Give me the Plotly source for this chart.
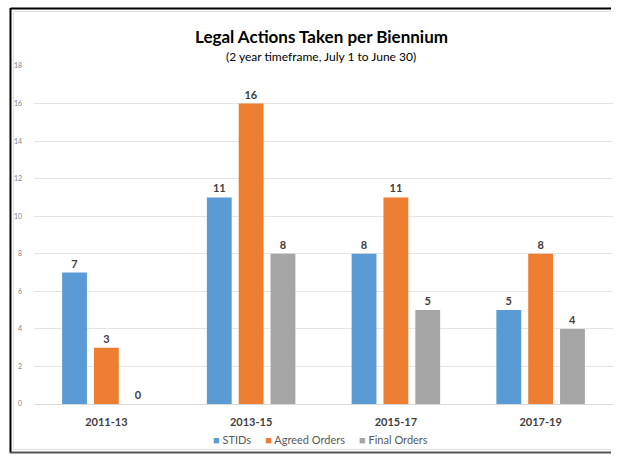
import plotly.graph_objects as go

categories = ["2011-13", "2013-15", "2015-17", "2017-19"]
series_names = ["STIDs", "Agreed Orders", "Final Orders"]
stids = [7, 11, 8, 5]
agreed_orders = [3, 16, 11, 8]
final_orders = [0, 8, 5, 4]
y_ticks = [0, 2, 4, 6, 8, 10, 12, 14, 16, 18]
colors = ["#5B9BD5", "#ED7D31", "#A5A5A5"]

FONT = "Lato"
W, H = 623, 456
L, R, T, B = 34, 10, 66, 52
pw, ph = W - L - R, H - T - B

def px(x):
    return (x - L) / pw

def py(y):
    return (H - B - y) / ph

def seg(x0, y0, x1, y1, color, width):
    return dict(type="path", xref="paper", yref="paper",
                path=f"M {px(x0):.5f},{py(y0):.5f} L {px(x1):.5f},{py(y1):.5f}",
                line=dict(color=color, width=width))

fig = go.Figure()
for name, vals, col in zip(series_names, [stids, agreed_orders, final_orders], colors):
    fig.add_trace(go.Bar(
        x=categories, y=vals, name=name, marker=dict(color=col, line=dict(width=0)),
        text=[str(v) for v in vals], textposition="outside", cliponaxis=False,
        textfont=dict(family=FONT, size=11, color="#404040", weight="bold"),
    ))

RX = 611
shapes = [
    seg(10.5, 8.5, RX, 8.5, "black", 2),
    seg(10.5, 8, 10.5, 453, "black", 2),
    seg(10, 452.5, RX, 452.5, "#555555", 2),
    seg(13.5, 11.5, RX, 11.5, "#E0E0E0", 1),
    seg(13.5, 11.5, 13.5, 450, "#E0E0E0", 1),
    seg(13.5, 449.5, RX, 449.5, "#E0E0E0", 1),
]

SP = "\u00a0"
legend_text = (SP * 5).join(
    f'<span style="color:{c}">■</span>{SP}{n}' for n, c in zip(series_names, colors))

fig.update_layout(
    width=W, height=H,
    margin=dict(l=L, r=R, t=T, b=B),
    paper_bgcolor="white", plot_bgcolor="white",
    barmode="group", bargap=0.34, bargroupgap=0.22,
    showlegend=False,
    shapes=shapes,
    annotations=[
        dict(text="<b>Legal Actions Taken per Biennium</b>", xref="paper", yref="paper",
             x=px(321), y=py(36), xanchor="center", yanchor="middle", showarrow=False,
             font=dict(family=FONT, size=17, color="black")),
        dict(text="(2 year timeframe, July 1 to June 30)", xref="paper", yref="paper",
             x=px(321), y=py(56), xanchor="center", yanchor="middle", showarrow=False,
             font=dict(family=FONT, size=12, color="black")),
        dict(text=legend_text, xref="paper", yref="paper",
             x=px(320), y=py(439), xanchor="center", yanchor="middle", showarrow=False,
             font=dict(family=FONT, size=11, color="#595959")),
    ],
    xaxis=dict(showgrid=False, showline=False, ticks="", ticklabelstandoff=10,
               tickfont=dict(family=FONT, size=11, color="#404040", weight="bold")),
    yaxis=dict(range=[0, 18], tickvals=y_ticks, showgrid=True, gridcolor="#E4E4E4", gridwidth=1,
               zeroline=True, zerolinecolor="#D9D9D9", zerolinewidth=1, showline=False,
               ticks="", ticklabelstandoff=11,
               tickfont=dict(family=FONT, size=7, color="#7F7F7F")),
)

fig.write_html("out.html", config={"displayModeBar": False},
               post_script="document.body.style.margin='0';document.body.style.overflow='hidden';")
